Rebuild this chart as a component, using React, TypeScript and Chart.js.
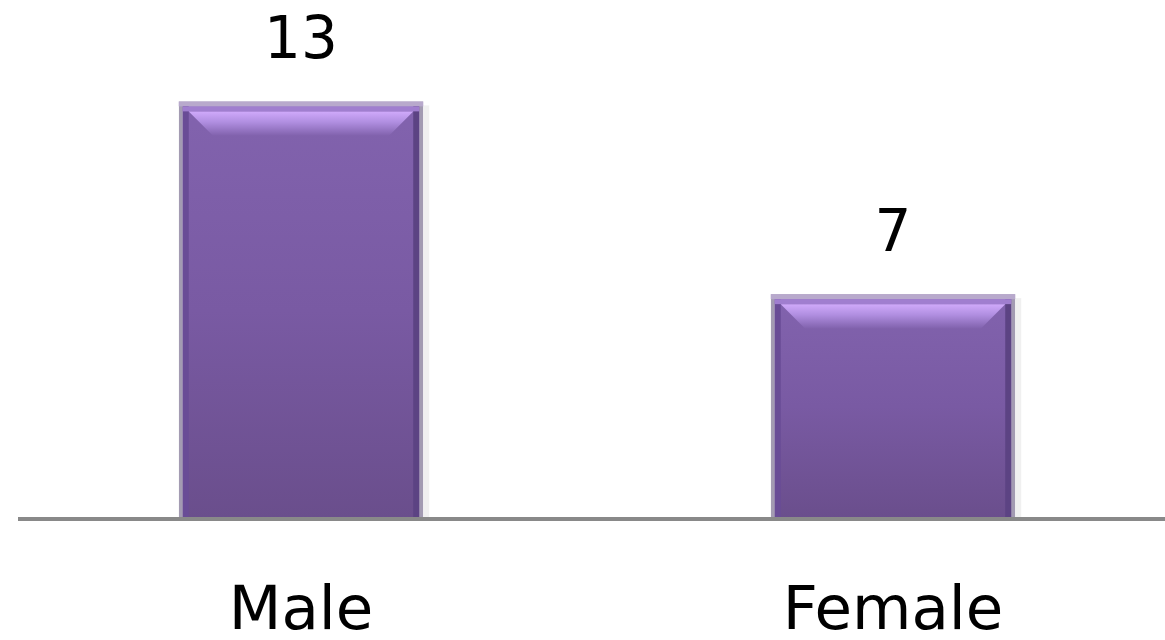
import React, { useEffect, useRef } from "react";
import { Chart, registerables } from "chart.js";

Chart.register(...registerables);

const categories: string[] = ["Male", "Female"];
const counts: number[] = [13, 7];
const yMin = 0;
const yMax = 16;

const bevelPlugin = {
  id: "bevelAndLabels",
  afterDatasetsDraw(chart: any) {
    const ctx = chart.ctx as CanvasRenderingContext2D;
    const meta = chart.getDatasetMeta(0);
    meta.data.forEach((bar: any, i: number) => {
      const { x, y, base, width } = bar.getProps(["x", "y", "base", "width"], true);
      const L = x - width / 2;
      const R = x + width / 2;
      const T = y;
      const B = base;
      ctx.save();
      // soft shadow on right
      ctx.fillStyle = "rgba(0,0,0,0.06)";
      ctx.fillRect(R, T + 4, 6, B - T - 4);
      // lighter top border
      ctx.fillStyle = "#b8a9cc";
      ctx.fillRect(L, T, R - L, 5);
      // inner dark side strips
      ctx.fillStyle = "#694c96";
      ctx.fillRect(L + 4, T + 5, 6, B - T - 5);
      ctx.fillStyle = "#5c4383";
      ctx.fillRect(R - 10, T + 5, 6, B - T - 5);
      // top row
      ctx.fillStyle = "#a07ecf";
      ctx.fillRect(L + 4, T + 5, R - L - 8, 5);
      // top bevel trapezoid
      const g = ctx.createLinearGradient(0, T + 10, 0, T + 34);
      g.addColorStop(0, "#d0aafb");
      g.addColorStop(0.45, "#b08ee0");
      g.addColorStop(1, "#8263ae");
      ctx.beginPath();
      ctx.moveTo(L + 10, T + 10);
      ctx.lineTo(R - 10, T + 10);
      ctx.lineTo(R - 34, T + 34);
      ctx.lineTo(L + 34, T + 34);
      ctx.closePath();
      ctx.fillStyle = g;
      ctx.fill();
      // value label
      ctx.fillStyle = "#000";
      ctx.font = "58px 'DejaVu Sans'";
      ctx.textAlign = "center";
      ctx.textBaseline = "alphabetic";
      ctx.fillText(String(counts[i]), x, T - 43);
      ctx.restore();
    });
    // baseline
    const bottom = chart.chartArea.bottom;
    ctx.save();
    ctx.fillStyle = "#898989";
    ctx.fillRect(18, bottom - 2, chart.width - 18, 4);
    ctx.restore();
  },
};

export default function App() {
  const canvasRef = useRef<HTMLCanvasElement | null>(null);

  useEffect(() => {
    if (!canvasRef.current) return;
    const chart = new Chart(canvasRef.current, {
      type: "bar",
      data: {
        labels: categories,
        datasets: [
          {
            data: counts,
            backgroundColor: (c: any) => {
              const ch = c.chart;
              const ys = ch.scales && ch.scales.y;
              if (!ys || typeof c.raw !== "number") return "#7a5aa4";
              const top = ys.getPixelForValue(c.raw);
              const bot = ys.getPixelForValue(0);
              if (!isFinite(top) || !isFinite(bot) || top === bot) return "#7a5aa4";
              const g = ch.ctx.createLinearGradient(0, top, 0, bot);
              g.addColorStop(0, "#8263ae");
              g.addColorStop(0.5, "#795aa3");
              g.addColorStop(1, "#6a4e8c");
              return g;
            },
            borderColor: "#a39bb2",
            borderWidth: { left: 4, right: 4, top: 5, bottom: 0 },
            borderSkipped: false,
            barPercentage: 0.413,
            categoryPercentage: 1,
          },
        ],
      },
      options: {
        animation: false,
        responsive: true,
        maintainAspectRatio: false,
        layout: { padding: { left: 5, right: 5, top: 5, bottom: 0 } },
        plugins: {
          legend: { display: false },
          tooltip: { enabled: false },
        },
        scales: {
          x: {
            grid: { display: false, drawTicks: false },
            border: { display: false },
            ticks: {
              color: "#000",
              font: { family: "'DejaVu Sans'", size: 61 },
              padding: 58,
              maxRotation: 0,
              autoSkip: false,
            },
            afterFit: (scale: any) => {
              scale.height = 121;
            },
          },
          y: {
            display: false,
            min: yMin,
            max: yMax,
          },
        },
      },
      plugins: [bevelPlugin],
    });
    return () => chart.destroy();
  }, []);

  return (
    <div
      style={{
        position: "fixed",
        left: 0,
        top: 0,
        width: 1165,
        height: 640,
        overflow: "hidden",
        background: "#fff",
      }}
    >
      <div style={{ position: "relative", width: 1194, height: 640 }}>
        <canvas ref={canvasRef} />
      </div>
    </div>
  );
}
